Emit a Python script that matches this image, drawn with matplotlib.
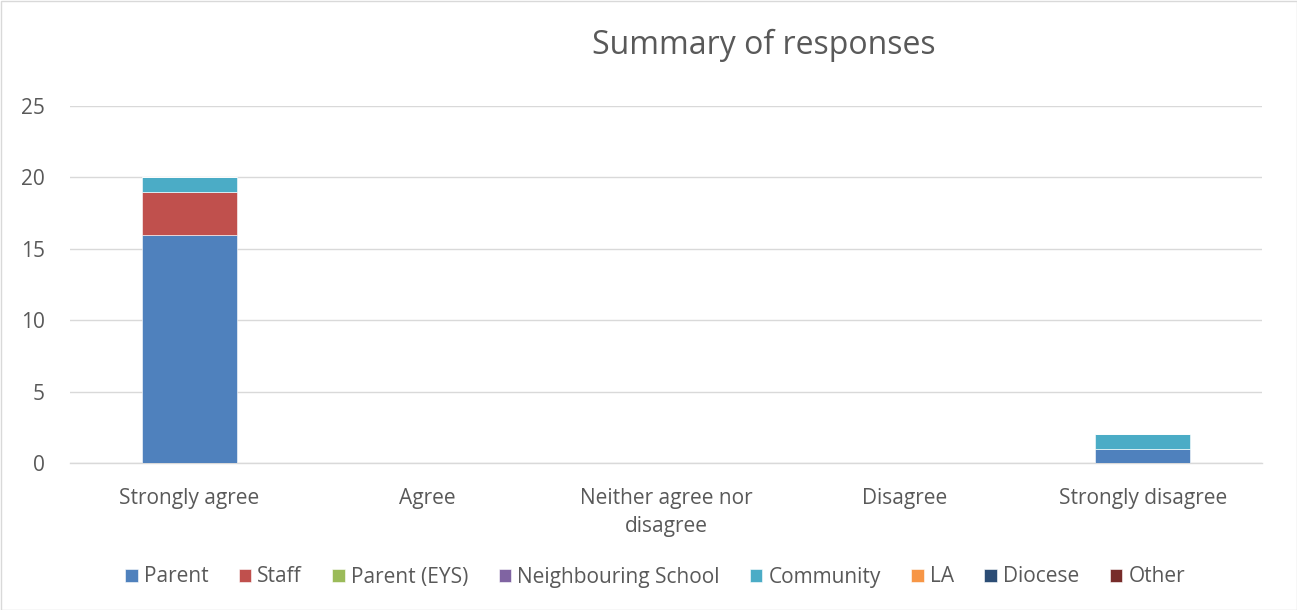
import matplotlib
matplotlib.use("Agg")
import matplotlib.pyplot as plt
import numpy as np

categories = ["Strongly agree", "Agree", "Neither agree nor\ndisagree", "Disagree", "Strongly disagree"]
series_names = ["Parent", "Staff", "Parent (EYS)", "Neighbouring School", "Community", "LA", "Diocese", "Other"]
parent = [16, 0, 0, 0, 1]
staff = [3, 0, 0, 0, 0]
parent_eys = [0, 0, 0, 0, 0]
neighbouring = [0, 0, 0, 0, 0]
community = [1, 0, 0, 0, 1]
la = [0, 0, 0, 0, 0]
diocese = [0, 0, 0, 0, 0]
other = [0, 0, 0, 0, 0]
series_values = [parent, staff, parent_eys, neighbouring, community, la, diocese, other]
colors = ["#4F81BD", "#C0504D", "#9BBB59", "#8064A2", "#4BACC6", "#F79646", "#2C4D75", "#772C2A"]
yticks = [0, 5, 10, 15, 20, 25]

plt.rcParams['font.family'] = ['Open Sans', 'DejaVu Sans']
fig = plt.figure(figsize=(12.97, 6.10), dpi=100)
ax = fig.add_axes([70/1297, 1-463/610, (1262-70)/1297, (463-106)/610])

x = np.arange(len(categories))
bottom = np.zeros(len(categories))
for name, vals, c in zip(series_names, series_values, colors):
    v = np.array(vals, dtype=float)
    ax.bar(x, v, 0.4, bottom=bottom, color=c, label=name, edgecolor='white', linewidth=0.4, zorder=3)
    bottom += v

ax.set_xlim(-0.5, len(categories) - 0.5)
ax.set_ylim(0, 25)
ax.set_yticks(yticks)
ax.set_xticks(x)
ax.set_xticklabels(categories, fontsize=15, color='#595959', linespacing=1.45)
ax.tick_params(axis='y', labelsize=15, labelcolor='#595959', length=0, pad=18)
ax.tick_params(axis='x', length=0, pad=18)
ax.grid(axis='y', color='#D9D9D9', linewidth=1, zorder=0)
for s in ['top', 'right', 'left']:
    ax.spines[s].set_visible(False)
ax.spines['bottom'].set_color('#D9D9D9')
ax.spines['bottom'].set_linewidth(1)

fig.text(764/1297, 1-45/610, "Summary of responses", fontsize=23, color='#595959', ha='center', va='center')

leg = fig.legend(loc='center', bbox_to_anchor=(655/1297, 1-577/610), ncol=8, frameon=False,
                 fontsize=15, handlelength=0.6, handleheight=0.6, handletextpad=0.3, columnspacing=1.45)
for t in leg.get_texts():
    t.set_color('#595959')

border = plt.Rectangle((0.5/1297, 0.5/610), 1 - 1/1297, 1 - 1/610, transform=fig.transFigure,
                       fill=False, edgecolor='#D9D9D9', linewidth=1)
fig.patches.append(border)

fig.savefig("out.png", dpi=100)
